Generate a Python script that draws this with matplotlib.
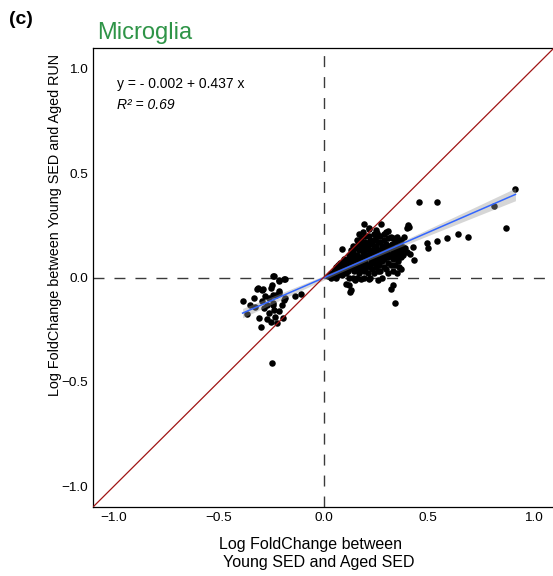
import numpy as np
import matplotlib
matplotlib.use("Agg")
import matplotlib.pyplot as plt

plt.rcParams['font.family'] = ['Liberation Sans', 'DejaVu Sans']

# fit reported on the panel
intercept = -0.002
slope = 0.437
r2_text = "0.69"

# log fold changes (young SED vs aged SED, young SED vs aged RUN)
x_right = [0.916, 0.456, 0.544, 0.813, 0.871, 0.641, 0.688, 0.587, 0.542, 0.494,
           0.501, 0.427, 0.415, 0.431, 0.405, 0.400, 0.384, 0.368, 0.333, 0.321,
           0.340, 0.193, 0.273, 0.308, 0.300, 0.217, 0.257, 0.324, 0.353, 0.360,
           0.380, 0.260, 0.260, 0.216, 0.192, 0.215, 0.088, 0.180, 0.252, 0.124,
           0.132, 0.105, 0.128, 0.407]
y_right = [0.423, 0.360, 0.364, 0.344, 0.238, 0.207, 0.195, 0.188, 0.177, 0.163,
           0.139, 0.148, 0.115, 0.083, 0.252, 0.239, 0.193, 0.041, -0.035, -0.053,
           -0.123, 0.257, 0.257, 0.223, 0.216, 0.236, 0.212, 0.195, 0.195, 0.172,
           0.148, 0.029, -0.011, -0.005, 0.000, 0.233, 0.137, 0.164, 0.196, -0.035,
           -0.059, -0.032, -0.070, 0.244]

x_core = [0.02, 0.03, 0.035, 0.04, 0.045, 0.05, 0.055, 0.06, 0.06, 0.065,
          0.07, 0.07, 0.075, 0.08, 0.08, 0.085, 0.09, 0.09, 0.095, 0.10,
          0.10, 0.105, 0.11, 0.11, 0.115, 0.12, 0.12, 0.125, 0.13, 0.13,
          0.135, 0.14, 0.145, 0.15, 0.15, 0.155, 0.16, 0.16, 0.165, 0.17,
          0.17, 0.175, 0.18, 0.18, 0.185, 0.19, 0.19, 0.195, 0.20, 0.20,
          0.205, 0.21, 0.21, 0.215, 0.22, 0.22, 0.225, 0.23, 0.23, 0.235,
          0.24, 0.24, 0.245, 0.25, 0.25, 0.255, 0.26, 0.26, 0.265, 0.27,
          0.27, 0.275, 0.28, 0.28, 0.285, 0.29, 0.29, 0.295, 0.30, 0.30,
          0.305, 0.31, 0.31, 0.315, 0.32, 0.325, 0.33, 0.335, 0.34, 0.345,
          0.35, 0.355, 0.36, 0.365, 0.37, 0.375,
          0.14, 0.15, 0.16, 0.17, 0.18, 0.19, 0.20, 0.21, 0.22, 0.23,
          0.24, 0.25, 0.26, 0.27, 0.28, 0.29, 0.30, 0.31, 0.32, 0.33,
          0.34, 0.35, 0.36, 0.12, 0.13, 0.14, 0.16, 0.17, 0.19, 0.20,
          0.22, 0.24, 0.25, 0.27, 0.29, 0.30, 0.31, 0.33, 0.18, 0.20,
          0.21, 0.23, 0.24, 0.26, 0.28, 0.20, 0.22, 0.18, 0.17, 0.19,
          0.23, 0.25, 0.27, 0.29, 0.31, 0.33, 0.35, 0.38, 0.39, 0.37, 0.40,
          0.06, 0.08, 0.10, 0.12, 0.14, 0.09, 0.11, 0.13, 0.15, 0.07]
y_core = [0.005, 0.015, 0.000, 0.020, 0.008, 0.030, 0.015, 0.000, 0.040, 0.025,
          0.010, 0.050, 0.035, 0.020, 0.060, 0.045, 0.010, 0.030, 0.055, 0.040,
          0.070, 0.020, 0.050, 0.085, 0.030, 0.065, 0.000, 0.045, 0.080, 0.100,
          0.060, 0.120, 0.030, 0.090, 0.140, 0.070, 0.110, 0.040, 0.160, 0.080,
          0.130, 0.050, 0.100, 0.190, 0.070, 0.120, 0.150, 0.030, 0.090, 0.170,
          0.110, 0.060, 0.140, 0.200, 0.100, 0.120, 0.080, 0.160, 0.040, 0.130,
          0.100, 0.180, 0.070, 0.120, 0.150, 0.090, 0.110, 0.170, 0.060, 0.130,
          0.200, 0.100, 0.150, 0.080, 0.120, 0.180, 0.050, 0.140, 0.100, 0.160,
          0.120, 0.070, 0.190, 0.140, 0.110, 0.160, 0.090, 0.130, 0.170, 0.110,
          0.140, 0.080, 0.120, 0.150, 0.100, 0.130,
          0.000, -0.010, 0.000, 0.020, -0.005, 0.060, 0.040, 0.020, 0.000, 0.070,
          0.020, 0.050, 0.070, 0.030, 0.000, 0.090, 0.040, 0.020, 0.060, 0.030,
          0.060, 0.020, 0.050, 0.110, 0.130, 0.150, 0.180, 0.210, 0.220, 0.200,
          0.180, 0.210, 0.230, 0.170, 0.210, 0.130, 0.100, 0.190, 0.140, 0.130,
          0.160, 0.110, 0.140, 0.130, 0.110, 0.070, 0.050, 0.040, 0.100, 0.090,
          0.090, 0.100, 0.080, 0.120, 0.150, 0.120, 0.100, 0.110, 0.140, 0.180, 0.120,
          0.050, 0.070, 0.090, 0.095, 0.110, 0.075, 0.065, 0.060, 0.050, 0.060]

x_left = [-0.386, -0.319, -0.293, -0.245, -0.242, -0.211, -0.187, -0.295, -0.258, -0.242,
          -0.211, -0.107, -0.325, -0.282, -0.242, -0.234, -0.211, -0.195, -0.306, -0.364,
          -0.297, -0.244, -0.134, -0.227, -0.214, -0.250, -0.290, -0.314, -0.182, -0.211,
          -0.234, -0.182, -0.270, -0.260, -0.230, -0.250, -0.220, -0.270, -0.240, -0.200,
          -0.190, -0.280, -0.330, -0.350]
y_left = [-0.112, -0.053, -0.061, -0.035, 0.005, -0.016, -0.008, -0.115, -0.096, -0.083,
          -0.075, -0.080, -0.139, -0.147, -0.131, -0.155, -0.159, -0.195, -0.195, -0.177,
          -0.239, -0.411, -0.091, -0.083, -0.064, -0.051, -0.056, -0.051, -0.006, -0.011,
          0.005, -0.099, -0.130, -0.170, -0.190, -0.215, -0.220, -0.200, -0.120, -0.130,
          -0.110, -0.090, -0.100, -0.130]

x_all = np.array(x_right + x_core + x_left)
y_all = np.array(y_right + y_core + y_left)

fig = plt.figure(figsize=(5.53, 5.76), dpi=100)
ax = fig.add_axes([93 / 553, 69 / 576, 461 / 553, 459 / 576])

ax.scatter(x_all, y_all, s=22, color='black', linewidths=0, zorder=2)

# regression line + 95% band
xs = np.linspace(x_all.min(), x_all.max(), 100)
ys = intercept + slope * xs
n = len(x_all)
resid = y_all - (intercept + slope * x_all)
s = np.sqrt(np.sum(resid ** 2) / (n - 2))
sxx = np.sum((x_all - x_all.mean()) ** 2)
se = s * np.sqrt(1 / n + (xs - x_all.mean()) ** 2 / sxx)
ax.fill_between(xs, ys - 1.97 * se, ys + 1.97 * se, color='#999999', alpha=0.4,
                linewidth=0, zorder=3)
ax.plot(xs, ys, color='#3366FF', lw=1.1, zorder=4)

ax.plot([-1.1, 1.1], [-1.1, 1.1], color='#A01515', lw=0.9, zorder=4)
ax.axhline(0, color='#3a3a3a', lw=1.0, ls=(0, (7.9, 7.2)), zorder=1)
ax.axvline(0, color='#3a3a3a', lw=1.0, ls=(0, (7.9, 7.2)), zorder=1)

ax.set_xlim(-1.1, 1.1)
ax.set_ylim(-1.1, 1.1)
ax.set_xticks([-1.0, -0.5, 0.0, 0.5, 1.0])
ax.set_yticks([-1.0, -0.5, 0.0, 0.5, 1.0])
ax.set_xticklabels(['\u22121.0', '\u22120.5', '0.0', '0.5', '1.0'])
ax.set_yticklabels(['\u22121.0', '\u22120.5', '0.0', '0.5', '1.0'])
ax.tick_params(length=0, labelsize=9.7, pad=3.6, colors='black')
ax.spines['right'].set_visible(False)
for sp in ax.spines.values():
    sp.set_linewidth(0.9)

ax.text(-0.986, 0.928, "y = - 0.002 + 0.437 x", fontsize=10, ha='left', va='center')
ax.text(-0.986, 0.828, "R\u00b2 = " + r2_text, fontsize=10, ha='left', va='center',
        style='italic')

fig.text(97 / 553, 1 - 33 / 576, "Microglia", fontsize=17, color='#2E9447',
         ha='left', va='center')
fig.text(9 / 553, 1 - 19 / 576, "(c)", fontsize=14, fontweight='bold',
         ha='left', va='center')

fig.text(55 / 553, 1 - 225 / 576, "Log FoldChange between Young SED and Aged RUN",
         fontsize=10.4, rotation=90, ha='center', va='center')
fig.text(310 / 553, 1 - 545 / 576, "Log FoldChange between", fontsize=11.5,
         ha='center', va='center')
fig.text(319 / 553, 1 - 563 / 576, "Young SED and Aged SED", fontsize=11.5,
         ha='center', va='center')

fig.savefig('out.png', dpi=100)
